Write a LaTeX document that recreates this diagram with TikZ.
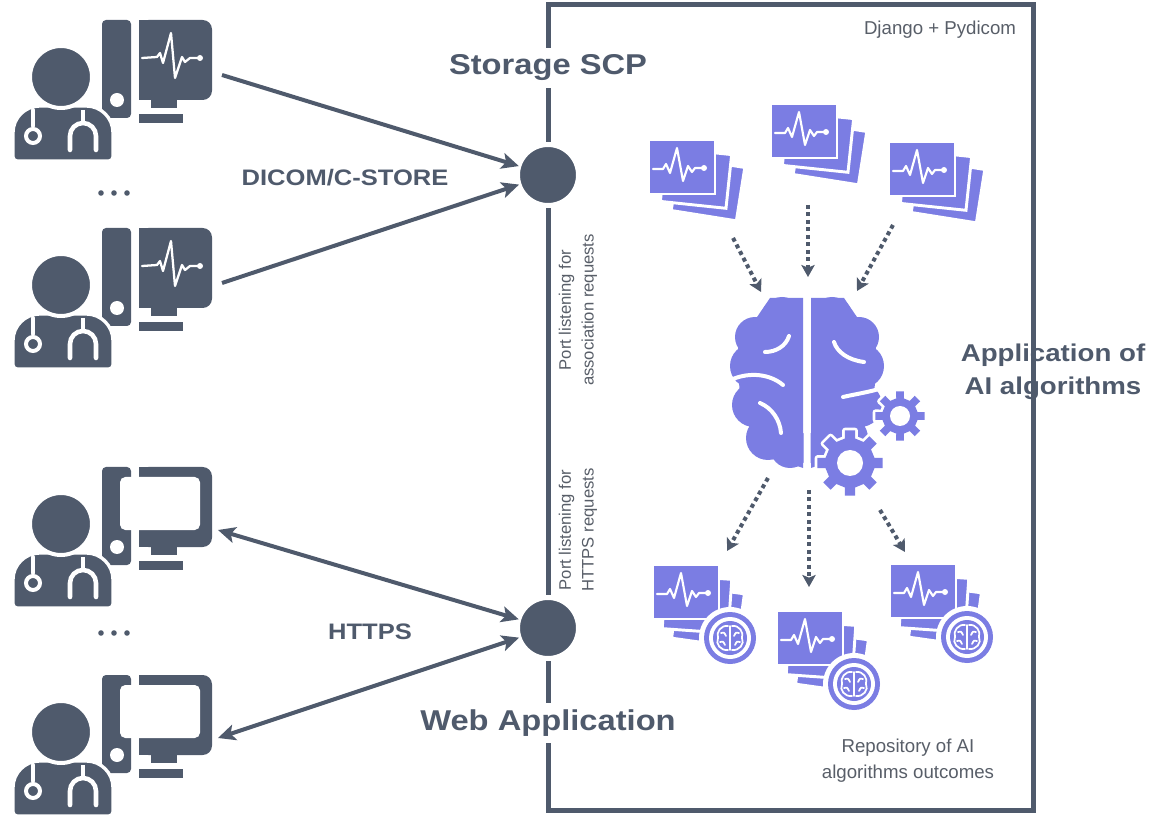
\documentclass[tikz,border=0pt]{standalone}
\usepackage{fontspec}
\setmainfont{Liberation Sans}
\newfontfamily\headfont[FakeStretch=1.14]{Liberation Sans Bold}
\usetikzlibrary{arrows.meta}

\definecolor{slate}{RGB}{79,90,108}
\definecolor{ink}{RGB}{88,94,104}
\definecolor{ai}{RGB}{123,125,227}

% heartbeat trace centred at (#1,#2)
\newcommand{\beat}[2]{%
  \begin{scope}[shift={(#1,#2)}]
    \draw[white, line width=1.6pt, line join=round, line cap=round]
      (-29,2) -- (-19,2) -- (-16,-3) -- (-12,6) -- (-5,-19) -- (1,14) -- (6,-1) -- (10,5) -- (13,1) -- (22,1);
    \fill[white] (22,1) circle (3);
  \end{scope}}

% one purple sheet centred at (#1,#2), turned by #3 degrees
\newcommand{\sheet}[3]{%
  \filldraw[fill=ai, draw=white, line width=2.2pt, shift={(#1,#2)}, rotate=#3] (-33,-27) rectangle (33,27);}

% stack of input images
\newcommand{\stackin}[2]{%
  \sheet{#1+26}{#2+22}{-9}
  \sheet{#1+14}{#2+11}{-6}
  \sheet{#1}{#2}{0}
  \beat{#1}{#2}}

% small brain drawn in white inside a badge at (#1,#2)
\newcommand{\minibrain}[2]{%
  \begin{scope}[shift={(#1,#2)}]
    \draw[white, line width=1.3pt, line cap=round, line join=round]
      (0,-12) -- (0,12)
      (-2,-12) .. controls (-9,-13) and (-14,-6) .. (-12,0) .. controls (-15,6) and (-9,13) .. (-2,12)
      (2,-12) .. controls (9,-13) and (14,-6) .. (12,0) .. controls (15,6) and (9,13) .. (2,12)
      (-9,-5) .. controls (-6,-6) .. (-4,-2)
      (9,-5) .. controls (6,-6) .. (4,-2)
      (-10,4) .. controls (-7,3) .. (-5,7)
      (10,4) .. controls (7,3) .. (5,7);
  \end{scope}}

% result: image stack with an AI badge
\newcommand{\stackout}[2]{%
  \sheet{#1+22}{#2+24}{-8}
  \sheet{#1+11}{#2+12}{-4}
  \sheet{#1}{#2}{0}
  \beat{#1}{#2}
  \fill[white] (#1+44,#2+46) circle (31);
  \fill[ai] (#1+44,#2+46) circle (26);
  \fill[white] (#1+44,#2+46) circle (21);
  \fill[ai] (#1+44,#2+46) circle (17);
  \minibrain{#1+44}{#2+46}}

% gear: centre (#1,#2), body radius #3, tip radius #4, hole radius #5
\newcommand{\gearpath}[4]{%
  [shift={(#1,#2)}] (-12:#3) \foreach \a in {0,45,...,315}{ -- ({\a-9}:#4) -- ({\a+9}:#4) -- ({\a+12}:#3) -- ({\a+33}:#3)} -- cycle}
\newcommand{\gear}[5]{%
  \path[fill=white, draw=white, line width=4pt, line join=round] \gearpath{#1}{#2}{#3}{#4};
  \fill[ai] \gearpath{#1}{#2}{#3}{#4};
  \fill[white] (#1,#2) circle (#5);}

% physician at a workstation; #1 vertical offset, #2 = 1 for a screen with a trace
\newcommand{\doctor}[2]{%
  \begin{scope}[shift={(0,#1)}]
    % tower
    \fill[slate, rounded corners=3pt] (102,20) rectangle (131,118);
    \fill[white] (117,100) circle (7);
    % screen
    \fill[slate, rounded corners=7pt] (139,20) rectangle (212,100);
    \fill[slate] (139,20) rectangle (160,100);
    \ifnum#2=1
      \draw[white, line width=1.7pt, line join=round, line cap=round]
        (142,58) -- (157,57) -- (160,53) -- (163,63) -- (171,33) -- (175,78) -- (182,57) -- (185,62) -- (190,58) -- (200,58);
      \fill[white] (200,58) circle (3);
    \else
      \fill[white, rounded corners=4pt] (120,30) rectangle (200,83);
    \fi
    % stand
    \fill[slate] (151,100) rectangle (177,108);
    \fill[slate] (139,114) rectangle (183,123);
    % body
    \filldraw[fill=slate, draw=white, line width=2.5pt]
      [rounded corners=3pt] (13,161) [rounded corners=20pt] -- (13,106) -- (113,106) [rounded corners=3pt] -- (113,161) -- cycle;
    % head
    \filldraw[fill=slate, draw=white, line width=3pt] (61,77) circle (31);
    % stethoscope
    \draw[white, line width=3.2pt, line cap=round] (33,110) -- (33,126);
    \draw[white, line width=3pt] (33,136) circle (7);
    \draw[white, line width=3.4pt, line cap=round]
      (70,150) -- (70,136) arc[start angle=180, end angle=360, radius=13] -- (96,150);
    \draw[white, line width=3.2pt] (83,110) -- (83,123);
  \end{scope}}

\tikzset{
  head/.style={font=\headfont\fontsize{21.5}{25}\selectfont, text=slate},
  proto/.style={font=\headfont\fontsize{16.8}{19}\selectfont, text=slate},
  note/.style={font=\fontsize{14}{19.5}\selectfont, text=ink},
  vnote/.style={font=\fontsize{12.5}{17}\selectfont, text=ink, rotate=90, align=center},
  port/.style={circle, fill=slate, draw=white, line width=3.75pt, minimum size=45.75pt, inner sep=0pt, outer sep=0pt},
  link/.style={slate, line width=3pt, -{Stealth[length=13pt,width=12pt,inset=3pt]}},
  duplex/.style={slate, line width=3pt, {Stealth[length=13pt,width=12pt,inset=3pt]}-{Stealth[length=13pt,width=12pt,inset=3pt]}},
  flow/.style={slate, line width=3pt, dash pattern=on 3pt off 2.6pt, -{Stealth[length=9pt,width=10pt,inset=2pt]}},
}

\begin{document}
\begin{tikzpicture}[x=0.75pt, y=-0.75pt]
\useasboundingbox (0,0) rectangle (1157,816);

% server frame
\draw[slate, line width=3.75pt] (548,5) rectangle (1033,810);

% ports
\node[port] (scp) at (548,175) {};
\node[port] (web) at (548,628) {};

% titles that interrupt the frame
\node[head, fill=white, inner sep=5pt] (scpt) at (548,68) {Storage SCP};
\node[head, fill=white, inner sep=5pt] (webt) at (548,723) {Web Application};

% workstations
\doctor{0}{1}
\doctor{208}{1}
\doctor{447}{0}
\doctor{655}{0}
\fill[slate] (101,193) circle (2.8) (114,193) circle (2.8) (127,193) circle (2.8);
\fill[slate] (101,633) circle (2.8) (114,633) circle (2.8) (127,633) circle (2.8);

\coordinate (d1) at (222,75);
\coordinate (d2) at (222,283);
\coordinate (d3) at (218,530);
\coordinate (d4) at (218,738);
\draw[link] (d1) -- (scp);
\draw[link] (d2) -- (scp);
\draw[duplex] (d3) -- (web);
\draw[duplex] (d4) -- (web);

\node[proto] (dicom) at (345,178) {DICOM/C-STORE};
\node[proto] (https) at (370,632) {HTTPS};

% port captions
\node[vnote] (assoc) at (578,310) {Port listening for\\association requests};
\node[vnote] (httpsreq) at (578,530) {Port listening for\\HTTPS requests};

\node[note] (django) at (940,30) {Django + Pydicom};
\node[note, align=center] (repo) at (908,761) {Repository of AI\\algorithms outcomes};
\node[head, font=\headfont\fontsize{18.2}{24.5}\selectfont, align=center] (aialg) at (1053,372) {Application of\\AI algorithms};

% incoming image stacks
\stackin{682}{167}
\stackin{804}{131}
\stackin{922}{169}

% brain, left hemisphere
\begin{scope}
  \clip (700,280) rectangle (803.5,480);
  \fill[ai] (782,318) circle (21) (755,337) circle (20) (752,366) circle (22)
            (754,405) circle (22) (768,438) circle (22) (790,448) circle (20);
  \fill[ai] (770,298) -- (803,298) -- (803,468) -- (765,455) -- (740,410) -- (738,345) -- cycle;
\end{scope}
% brain, right hemisphere
\begin{scope}
  \clip (810.5,280) rectangle (920,480);
  \fill[ai] (832,318) circle (21) (859,337) circle (20) (862,366) circle (22)
            (860,405) circle (22) (846,438) circle (22) (824,448) circle (20);
  \fill[ai] (844,298) -- (811,298) -- (811,468) -- (849,455) -- (874,410) -- (876,345) -- cycle;
\end{scope}
\draw[white, line width=3pt, line cap=round]
  (765,352) .. controls (776,352) and (786,346) .. (789,336)
  (733,379) .. controls (750,372) and (770,374) .. (783,385)
  (760,403) .. controls (772,408) and (780,420) .. (781,433)
  (834,342) .. controls (837,352) and (848,360) .. (864,362)
  (843,397) .. controls (856,394) and (870,392) .. (882,388);
\gear{900}{416}{18}{25}{10}
\gear{850}{463}{25}{33}{13}

% results
\stackout{686}{592}
\stackout{810}{638}
\stackout{923}{591}

% processing flow
\coordinate (f1s) at (733,238);  \coordinate (f1e) at (761,292);
\coordinate (f2s) at (808,205);  \coordinate (f2e) at (808,277);
\coordinate (f3s) at (893,225);  \coordinate (f3e) at (857,291);
\coordinate (g1s) at (768,478);  \coordinate (g1e) at (727,551);
\coordinate (g2s) at (809,490);  \coordinate (g2e) at (809,587);
\coordinate (g3s) at (880,510);  \coordinate (g3e) at (905,552);
\draw[flow] (f1s) -- (f1e);
\draw[flow] (f2s) -- (f2e);
\draw[flow] (f3s) -- (f3e);
\draw[flow] (g1s) -- (g1e);
\draw[flow] (g2s) -- (g2e);
\draw[flow] (g3s) -- (g3e);
\end{tikzpicture}
\end{document}
